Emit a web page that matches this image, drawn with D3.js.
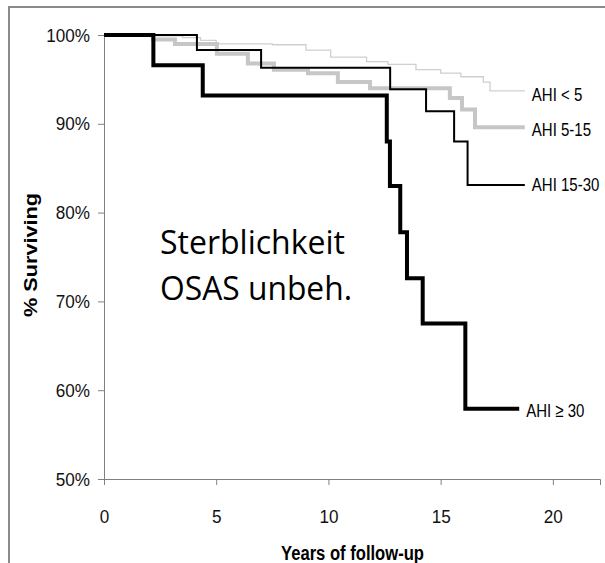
<!DOCTYPE html>
<html><head><meta charset="utf-8">
<script src="https://cdn.jsdelivr.net/npm/d3@7"></script>
<style>body{margin:0;background:#fff}svg{display:block}</style>
</head><body>
<svg id="c" width="605" height="563"></svg>
<script>
// years of follow-up, % surviving (step functions)
const ahiLt5_t = [0, 2.05, 3.5, 4.3, 5.0, 7.5, 9.0, 10.1, 11.7, 12.65, 13.9, 15.0, 15.9, 16.9, 17.2, 18.75];
const ahiLt5_v = [100, 99.9, 99.7, 99.4, 99.0, 98.9, 98.3, 97.5, 97.0, 96.7, 96.1, 95.7, 95.3, 94.7, 93.7, 93.7];
const ahi515_t = [0, 2.18, 3.16, 5.03, 6.41, 7.57, 9.09, 10.42, 11.85, 15.41, 15.95, 16.53, 18.75];
const ahi515_v = [100, 99.5, 99.0, 97.9, 96.8, 96.1, 95.7, 94.7, 94.0, 92.9, 91.6, 89.6, 89.6];
const ahi1530_t = [0, 4.14, 7.0, 12.75, 14.35, 15.6, 16.2, 18.75];
const ahi1530_v = [100, 98.3, 96.3, 93.9, 91.4, 88.0, 83.1, 83.1];
const ahi30_t = [0, 2.2, 4.4, 12.6, 12.74, 13.2, 13.5, 14.2, 16.1, 18.5];
const ahi30_v = [100, 96.6, 93.2, 88.0, 83.0, 77.8, 72.6, 67.5, 57.9, 57.9];
const seriesNames = ["AHI < 5", "AHI 5-15", "AHI 15-30", "AHI \u2265 30"];
const xTicks = [0, 5, 10, 15, 20];
const yTicks = [50, 60, 70, 80, 90, 100];
const annotation = ["Sterblichkeit", "OSAS unbeh."];
const xTitle = "Years of follow-up";
const yTitle = "% Surviving";

const FONT = "Liberation Sans, Arial, sans-serif";
const svg = d3.select("#c");
const x = d3.scaleLinear().domain([0, 22.1]).range([104, 600]);
const y = d3.scaleLinear().domain([50, 100]).range([479, 35]);

// frame
svg.append("rect").attr("x", 9).attr("y", 7).attr("width", 620).attr("height", 600)
  .attr("fill", "none").attr("stroke", "#8a8a8a").attr("stroke-width", 2);

// axes
const SX = 0.9;
const gy = svg.append("g").attr("transform", "translate(104,0)")
  .call(d3.axisLeft(y).tickValues(yTicks).tickFormat(d => d + "%").tickSize(6));
gy.selectAll(".tick text").attr("x", -14 / SX).attr("transform", `scale(${SX},1)`);
const gx = svg.append("g").attr("transform", "translate(0,479)")
  .call(d3.axisBottom(x).tickValues(xTicks).tickSize(6));
gx.selectAll(".tick text").attr("y", 44).attr("dy", 0).attr("transform", `scale(${SX},1)`)
  .attr("x", 0);
[gx, gy].forEach(g => {
  g.select(".domain").attr("stroke", "#808080");
  g.selectAll(".tick line").attr("stroke", "#808080");
  g.selectAll(".tick text").attr("font-family", FONT)
    .attr("font-size", 19).attr("fill", "#111");
});

const series = [
  {t: ahiLt5_t, v: ahiLt5_v, color: "#cfcfcf", w: 1.3, name: seriesNames[0], ly: 101},
  {t: ahi515_t, v: ahi515_v, color: "#c6c6c6", w: 4, name: seriesNames[1], ly: 136},
  {t: ahi1530_t, v: ahi1530_v, color: "#000", w: 2, name: seriesNames[2], ly: 191},
  {t: ahi30_t, v: ahi30_v, color: "#000", w: 4, name: seriesNames[3], ly: 417}
];
const LS = 0.79;
const line = d3.line().x(d => x(d[0])).y(d => y(d[1])).curve(d3.curveStepAfter);
series.forEach(s => {
  const pts = s.t.map((t, i) => [t, s.v[i]]);
  svg.append("path").attr("d", line(pts)).attr("fill", "none")
    .attr("stroke", s.color).attr("stroke-width", s.w).attr("stroke-linejoin", "miter");
  const lx = x(s.t[s.t.length - 1]) + 7;
  svg.append("text").attr("transform", `translate(${lx},${s.ly}) scale(${LS},1)`)
    .attr("font-family", FONT).attr("font-size", 19)
    .attr("fill", "#000").text(s.name);
});

// titles
svg.append("text").attr("x", 281).attr("y", 560)
  .attr("font-family", FONT).attr("font-size", 20).attr("font-weight", "bold")
  .attr("textLength", 143).attr("lengthAdjust", "spacingAndGlyphs").text(xTitle);
svg.append("text").attr("transform", "translate(37,317) rotate(-90)")
  .attr("font-family", FONT).attr("font-size", 19).attr("font-weight", "bold")
  .attr("textLength", 124).attr("lengthAdjust", "spacingAndGlyphs").text(yTitle);

// annotation
const annW = [185, 192];
annotation.forEach((a, i) => {
  svg.append("text").attr("x", 160).attr("y", 254 + i * 46)
    .attr("font-family", "Open Sans, Noto Sans, sans-serif").attr("font-size", 33)
    .attr("textLength", annW[i]).attr("lengthAdjust", "spacingAndGlyphs")
    .attr("fill", "#000").text(a);
});
</script>
</body></html>
